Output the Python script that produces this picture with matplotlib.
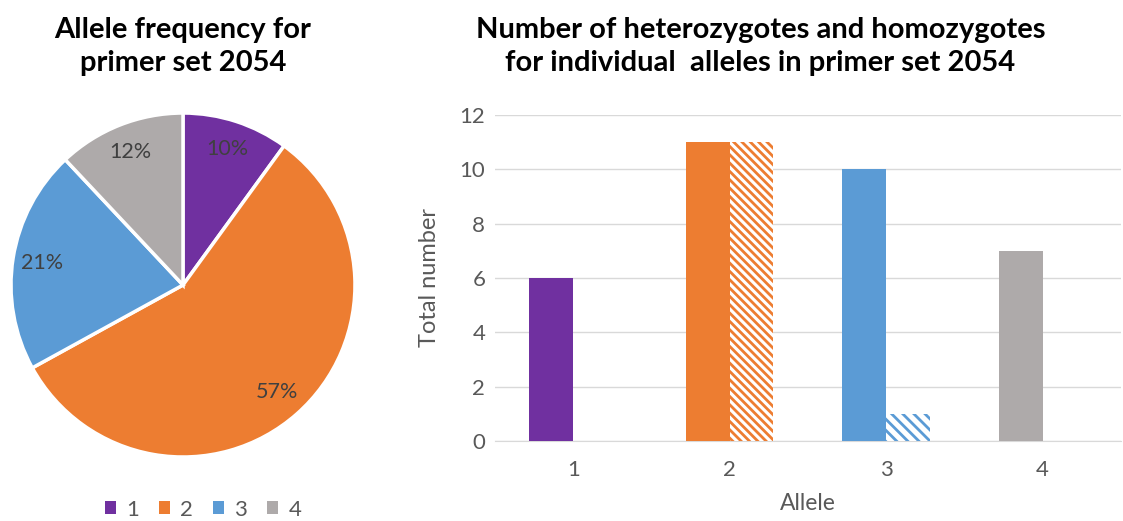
import matplotlib
matplotlib.use("Agg")
import matplotlib.pyplot as plt
from matplotlib.patches import Patch
import numpy as np

plt.rcParams['font.family'] = ['Lato', 'DejaVu Sans']
plt.rcParams['hatch.linewidth'] = 2.0

alleles = ['1', '2', '3', '4']
pie_share = [10, 57, 21, 12]
colors = ['#7030A0', '#ED7D31', '#5B9BD5', '#AEAAAA']
heterozygotes = [6, 11, 10, 7]
homozygotes = [0, 11, 1, 0]
hatch_density = [4, 4, 3, 4]

pie_title = "Allele frequency for\nprimer set 2054"
bar_title = "Number of heterozygotes and homozygotes\nfor individual  alleles in primer set 2054"

fig = plt.figure(figsize=(11.23, 5.21), dpi=100)

# Pie chart
axp = fig.add_axes([0.0098, 0.1228, 0.3063, 0.6603])
wedges, texts, autotexts = axp.pie(
    pie_share, colors=colors, startangle=90, counterclock=False,
    autopct='%d%%', pctdistance=0.83,
    wedgeprops=dict(edgecolor='white', linewidth=2.5),
    textprops=dict(color='#404040', fontsize=15.5))
axp.set_xlim(-1, 1); axp.set_ylim(-1, 1)
axp.set_aspect('equal')
fig.text(0.163, 0.968, pie_title, ha='center', va='top', fontsize=21,
         fontweight='bold', color='black', linespacing=1.36)
handles = [Patch(facecolor=c, edgecolor='none') for c in colors]
fig.legend(handles, alleles, loc='center', bbox_to_anchor=(0.181, 0.022),
           ncol=4, frameon=False, handlelength=0.5, handleheight=0.5,
           handletextpad=0.45, columnspacing=0.9,
           prop=dict(size=16), labelcolor='#595959')

# Bar chart
axb = fig.add_axes([0.4408, 0.1536, 0.5572, 0.6257])
x = np.arange(1, len(alleles) + 1)
w = 0.28
axb.bar(x - w / 2, heterozygotes, width=w, color=colors, zorder=3)
for xi, v, c, d in zip(x, homozygotes, colors, hatch_density):
    if v > 0:
        axb.bar(xi + w / 2, v, width=w, facecolor='white', edgecolor=c,
                linewidth=0, hatch='\\' * d, zorder=3)
axb.set_xlim(0.5, 4.5)
axb.set_ylim(0, 12)
axb.set_yticks(range(0, 13, 2))
axb.set_xticks(x)
axb.set_xticklabels(alleles)
axb.grid(axis='y', color='#D9D9D9', linewidth=1, zorder=0)
for s in ['top', 'right', 'left']:
    axb.spines[s].set_visible(False)
axb.spines['bottom'].set_color('#D9D9D9')
axb.tick_params(axis='both', length=0, labelsize=16, labelcolor='#595959')
axb.tick_params(axis='y', pad=7)
axb.tick_params(axis='x', pad=14)
axb.set_ylabel('Total number', fontsize=17, color='#595959', labelpad=14)
axb.set_xlabel('Allele', fontsize=16.5, color='#595959', labelpad=9)
fig.text(0.677, 0.968, bar_title, ha='center', va='top', fontsize=21,
         fontweight='bold', color='black', linespacing=1.36)

fig.savefig('out.png', dpi=100)
